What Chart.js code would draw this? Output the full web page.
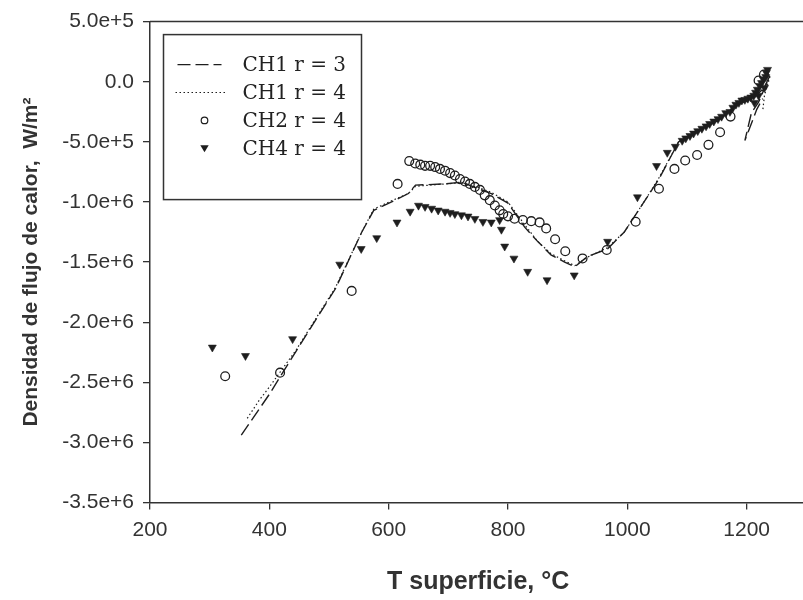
<!DOCTYPE html>
<html><head><meta charset="utf-8">
<script src="https://cdn.jsdelivr.net/npm/chart.js"></script>
<style>
html,body{margin:0;padding:0;background:#fff;overflow:hidden;}
#wrap{width:803px;height:600px;overflow:hidden;position:relative;background:#fff;}
#c{position:absolute;left:0;top:0;}
</style></head><body>
<div id="wrap"><canvas id="c" width="812" height="600"></canvas></div>
<script>
// ---- data (T superficie in °C, heat flux density in W/m2) ----
const seriesLabels = ['CH1 r = 3', 'CH1 r = 4', 'CH2 r = 4', 'CH4 r = 4'];

const ch1r3T = [353,400,445,511,555,575,605,633,645,695,722,750,772,800,828,850,872,895,912,933,967,995,1028,1053,1086,1117,1156,1183,1206,1228,1239,1220,1208,1197,1217,1227];
const ch1r3Q = [-2.94e6,-2.60e6,-2.24e6,-1.72e6,-1.25e6,-1.07e6,-1.00e6,-0.93e6,-0.86e6,-0.85e6,-0.835e6,-0.89e6,-0.93e6,-1.01e6,-1.21e6,-1.33e6,-1.44e6,-1.50e6,-1.54e6,-1.455e6,-1.39e6,-1.25e6,-1.00e6,-0.81e6,-0.50e6,-0.42e6,-0.31e6,-0.19e6,-0.15e6,-0.06e6,0.05e6,-0.17e6,-0.26e6,-0.49e6,-0.23e6,-0.14e6];

const ch1r4T = [363,383,400,445,511,555,575,605,633,645,695,722,750,772,800,828,850,872,895,912,933,967,995,1028,1053,1086,1117,1156,1183,1206,1228,1239,1230,1227];
const ch1r4Q = [-2.80e6,-2.65e6,-2.54e6,-2.23e6,-1.71e6,-1.25e6,-1.06e6,-0.99e6,-0.93e6,-0.87e6,-0.85e6,-0.84e6,-0.88e6,-0.92e6,-1.00e6,-1.19e6,-1.33e6,-1.43e6,-1.49e6,-1.53e6,-1.46e6,-1.38e6,-1.25e6,-1.00e6,-0.80e6,-0.50e6,-0.42e6,-0.31e6,-0.19e6,-0.14e6,-0.07e6,0.04e6,-0.11e6,-0.24e6];

const ch2T = [326,418,538,615,634.5,644.5,653,661,669.5,678,686,694.5,703,711,719.5,728,736,744.5,753,761,769.5,778,786,792,800,811,825,839,853,864,879,896,925,965.5,1014,1053,1079,1097,1117,1136,1155.5,1173,1220,1229];
const ch2Q = [-2.45e6,-2.42e6,-1.74e6,-0.85e6,-0.66e6,-0.68e6,-0.69e6,-0.70e6,-0.70e6,-0.71e6,-0.725e6,-0.74e6,-0.76e6,-0.78e6,-0.81e6,-0.83e6,-0.85e6,-0.875e6,-0.90e6,-0.945e6,-0.985e6,-1.03e6,-1.07e6,-1.10e6,-1.12e6,-1.14e6,-1.15e6,-1.16e6,-1.17e6,-1.22e6,-1.31e6,-1.41e6,-1.47e6,-1.40e6,-1.165e6,-0.89e6,-0.725e6,-0.655e6,-0.61e6,-0.525e6,-0.42e6,-0.29e6,0.01e6,0.06e6];

const ch4T = [304.5,360,439,518,554,580,614,636,650,661,672,683,694.5,703,711,722,733,744.5,758,772,786,789,794.5,810,833,865.5,911,967,1017,1049,1067,1080.5,1092,1098,1105,1111,1118,1125,1132,1138,1145,1152,1158,1165,1172,1177,1182,1187,1192,1197,1202,1207,1212,1215,1218,1222,1225,1228,1232,1233,1213,1220,1230,1235];
const ch4Q = [-2.21e6,-2.28e6,-2.14e6,-1.52e6,-1.39e6,-1.30e6,-1.17e6,-1.08e6,-1.03e6,-1.04e6,-1.055e6,-1.07e6,-1.08e6,-1.09e6,-1.10e6,-1.11e6,-1.12e6,-1.14e6,-1.165e6,-1.17e6,-1.15e6,-1.23e6,-1.37e6,-1.47e6,-1.58e6,-1.65e6,-1.61e6,-1.33e6,-0.96e6,-0.70e6,-0.59e6,-0.54e6,-0.49e6,-0.47e6,-0.45e6,-0.43e6,-0.41e6,-0.39e6,-0.37e6,-0.35e6,-0.33e6,-0.31e6,-0.29e6,-0.26e6,-0.25e6,-0.215e6,-0.19e6,-0.175e6,-0.155e6,-0.15e6,-0.14e6,-0.13e6,-0.115e6,-0.09e6,-0.065e6,-0.035e6,-0.01e6,0.02e6,0.04e6,0.075e6,-0.175e6,-0.115e6,-0.05e6,0.10e6];

const xTicks = [200, 400, 600, 800, 1000, 1200];
const yTicks = [5e5, 0, -5e5, -1e6, -1.5e6, -2e6, -2.5e6, -3e6, -3.5e6];
const yTickLabels = ['5.0e+5','0.0','-5.0e+5','-1.0e+6','-1.5e+6','-2.0e+6','-2.5e+6','-3.0e+6','-3.5e+6'];
const xTitle = 'T superficie, \u00B0C';
const yTitle = 'Densidad de flujo de calor,  W/m\u00B2';

// ---- chart ----
const ink = '#1e1e1e';
const textCol = '#333333';
const pts = (T, Q) => T.map((t, i) => ({x: t, y: Q[i]}));

const framePlugin = {
  id: 'frame',
  afterDraw(chart) {
    const {ctx, chartArea: a} = chart;
    ctx.save();
    ctx.strokeStyle = '#333';
    ctx.lineWidth = 1.5;
    ctx.beginPath();
    ctx.moveTo(a.left, a.top);
    ctx.lineTo(a.right, a.top);
    ctx.lineTo(a.right, a.bottom);
    ctx.stroke();
    ctx.restore();
  }
};

const legendPlugin = {
  id: 'boxLegend',
  afterDraw(chart) {
    const {ctx, chartArea: a} = chart;
    const bx = a.left + 13.5, by = a.top + 13, bw = 198, bh = 165;
    ctx.save();
    ctx.fillStyle = '#fff';
    ctx.fillRect(bx, by, bw, bh);
    ctx.strokeStyle = '#333';
    ctx.lineWidth = 1.5;
    ctx.strokeRect(bx, by, bw, bh);
    chart.data.datasets.forEach((ds, i) => {
      const y = by + 30 + i * 27.9;
      ctx.setLineDash([]);
      if (ds.showLine) {
        ctx.strokeStyle = ds.borderColor;
        ctx.lineWidth = ds.borderWidth;
        ctx.setLineDash(ds.borderDash || []);
        ctx.beginPath();
        ctx.moveTo(bx + (i === 0 ? 14 : 12), y);
        ctx.lineTo(bx + (i === 0 ? 58 : 63), y);
        ctx.stroke();
        ctx.setLineDash([]);
      } else {
        const cx = bx + 41;
        ctx.beginPath();
        if (ds.pointStyle === 'circle') {
          ctx.arc(cx, y, 3.3, 0, Math.PI * 2);
          ctx.strokeStyle = ink; ctx.lineWidth = 1.2; ctx.stroke();
        } else {
          const r = 4.2;
          ctx.moveTo(cx - r, y - r * 0.7);
          ctx.lineTo(cx + r, y - r * 0.7);
          ctx.lineTo(cx, y + r * 0.95);
          ctx.closePath();
          ctx.fillStyle = ink; ctx.fill();
        }
      }
      ctx.fillStyle = '#222';
      ctx.font = '20px "DejaVu Serif"';
      ctx.textBaseline = 'middle';
      ctx.textAlign = 'left';
      ctx.fillText(ds.label, bx + 79, y + 1);
    });
    ctx.restore();
  }
};

new Chart(document.getElementById('c'), {
  type: 'scatter',
  data: {
    datasets: [
      {label: seriesLabels[0], data: pts(ch1r3T, ch1r3Q), showLine: true, borderColor: ink,
       borderWidth: 1.4, borderDash: [13, 5], pointRadius: 0, fill: false, tension: 0},
      {label: seriesLabels[1], data: pts(ch1r4T, ch1r4Q), showLine: true, borderColor: ink,
       borderWidth: 1.2, borderDash: [1.5, 2.5], pointRadius: 0, fill: false, tension: 0},
      {label: seriesLabels[2], data: pts(ch2T, ch2Q), showLine: false, pointStyle: 'circle',
       pointRadius: 4.4, pointBorderWidth: 1.3, borderColor: ink, backgroundColor: 'rgba(0,0,0,0)'},
      {label: seriesLabels[3], data: pts(ch4T, ch4Q), showLine: false, pointStyle: 'triangle',
       pointRotation: 180, pointRadius: 4.6, pointBorderWidth: 0.6, borderColor: ink, backgroundColor: ink}
    ]
  },
  options: {
    responsive: false,
    animation: false,
    layout: {padding: {left: 0, top: 19, right: 2, bottom: 0}},
    plugins: {legend: {display: false}, tooltip: {enabled: false}},
    scales: {
      x: {
        type: 'linear', min: 200, max: 1300,
        afterBuildTicks: s => { s.ticks = xTicks.map(v => ({value: v})); },
        afterFit: s => { s.height = 97.5; },
        ticks: {autoSkip: false, maxRotation: 0, padding: 8, color: textCol,
                font: {family: '"Liberation Sans", Arial, sans-serif', size: 21},
                callback: v => String(v)},
        grid: {drawOnChartArea: false, drawTicks: true, tickLength: 7, color: '#333', lineWidth: 1.3},
        border: {display: true, color: '#333', width: 1.5},
        title: {display: true, text: xTitle, color: textCol,
                font: {family: '"Liberation Sans", Arial, sans-serif', size: 25, weight: 'bold'},
                padding: {top: 0, bottom: 3}}
      },
      y: {
        type: 'linear', min: -3.5e6, max: 5e5,
        afterBuildTicks: s => { s.ticks = yTicks.slice().sort((a, b) => a - b).map(v => ({value: v})); },
        afterFit: s => { s.width = 150; },
        ticks: {autoSkip: false, padding: 9, color: textCol,
                font: {family: '"Liberation Sans", Arial, sans-serif', size: 21},
                callback: v => yTickLabels[yTicks.indexOf(v)]},
        grid: {drawOnChartArea: false, drawTicks: true, tickLength: 7, color: '#333', lineWidth: 1.3},
        border: {display: true, color: '#333', width: 1.5},
        title: {display: true, text: yTitle, color: textCol,
                font: {family: '"Liberation Sans", Arial, sans-serif', size: 21, weight: 'bold'},
                padding: {top: 19, bottom: 0}}
      }
    }
  },
  plugins: [framePlugin, legendPlugin]
});
</script>
</body></html>
